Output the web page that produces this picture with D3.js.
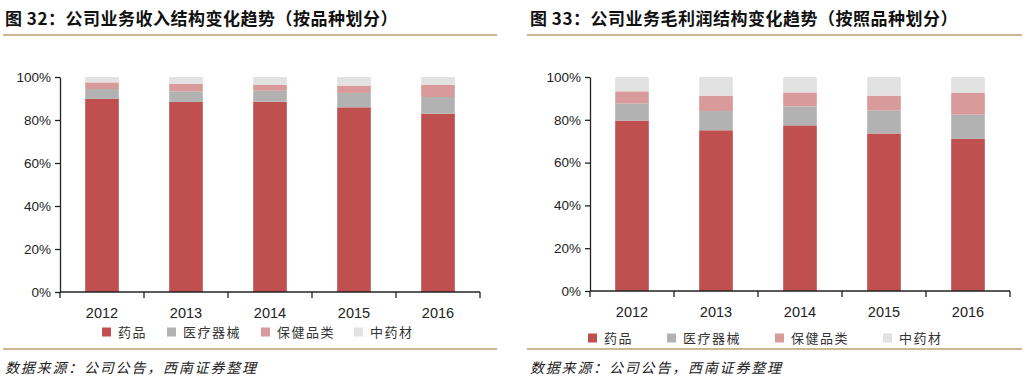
<!DOCTYPE html>
<html>
<head>
<meta charset="utf-8">
<script src="https://cdn.jsdelivr.net/npm/d3@7"></script>
<style>
  body { margin: 0; background: #fff; }
  svg { display: block; }
  .title { font-family: "Noto Sans CJK SC", sans-serif; font-weight: 700; font-size: 17px; letter-spacing: 0.5px; fill: #111; }
  .tick text { font-family: "Liberation Sans", Arial, sans-serif; fill: #222; }
  .legend text { font-family: "Noto Sans CJK SC", sans-serif; font-size: 13px; letter-spacing: 1.5px; fill: #333; }
  .source { font-family: "Noto Sans CJK SC", sans-serif; font-size: 14px; letter-spacing: 1.8px; font-style: italic; fill: #222; }
</style>
</head>
<body>
<svg id="chart" width="1026" height="388"></svg>
<script>
// Data (shares in %)
const years = ['2012', '2013', '2014', '2015', '2016'];
const seriesNames = ['药品', '医疗器械', '保健品类', '中药材'];
const colors = ['#c0504f', '#b2b2b2', '#d99a9b', '#e2e2e2'];
const yTicks = [0, 20, 40, 60, 80, 100];

// 图32 收入结构
const revMedicine = [89.8, 88.4, 88.5, 85.9, 82.9];
const revDevices = [4.6, 4.9, 5.1, 6.7, 7.8];
const revHealth = [3.1, 3.6, 2.8, 3.4, 5.7];
const revHerbs = [2.5, 3.1, 3.6, 4.0, 3.6];

// 图33 毛利润结构
const gpMedicine = [79.6, 75.1, 77.4, 73.6, 71.1];
const gpDevices = [8.0, 9.0, 8.9, 10.8, 11.3];
const gpHealth = [5.7, 7.2, 6.5, 6.9, 10.3];
const gpHerbs = [6.7, 8.7, 7.2, 8.7, 7.3];

const svg = d3.select('#chart');

function drawPanel(opts) {
  const g = svg.append('g');

  // title + rules
  g.append('text').attr('class', 'title').attr('x', opts.titleX).attr('y', 25).text(opts.title);
  g.append('line').attr('x1', opts.ruleX0).attr('x2', opts.ruleX1).attr('y1', 35).attr('y2', 35)
    .attr('stroke', '#cbb88f').attr('stroke-width', 2);
  g.append('line').attr('x1', opts.ruleX0).attr('x2', opts.ruleX1).attr('y1', 349).attr('y2', 349)
    .attr('stroke', '#cbb88f').attr('stroke-width', 2);
  g.append('text').attr('class', 'source').attr('x', opts.titleX).attr('y', 373).text('数据来源：公司公告，西南证券整理');

  const rows = years.map((y, i) => {
    const r = { year: y };
    opts.series.forEach((s, k) => { r[seriesNames[k]] = s[i]; });
    return r;
  });

  const x = d3.scaleBand().domain(years).range([opts.x0, opts.x1]).paddingInner(0.6).paddingOuter(0.3);
  const y = d3.scaleLinear().domain([0, 100]).range([opts.y0, opts.y1]);

  const stack = d3.stack().keys(seriesNames)(rows);

  g.append('g').selectAll('g').data(stack).join('g')
    .attr('fill', (d, i) => colors[i])
    .selectAll('rect').data(d => d).join('rect')
    .attr('x', d => x(d.data.year))
    .attr('width', x.bandwidth())
    .attr('y', d => y(Math.min(100, d[1])))
    .attr('height', d => y(d[0]) - y(Math.min(100, d[1])));

  // y axis
  const ya = g.append('g').attr('transform', `translate(${opts.x0},0)`)
    .call(d3.axisLeft(y).tickValues(yTicks).tickFormat(d => d + '%').tickSize(5).tickSizeOuter(0));
  ya.selectAll('text').attr('font-size', 13.5).attr('dx', '-1');
  ya.selectAll('line, path').attr('stroke', '#222').attr('stroke-width', 1.3);

  // x axis: ticks at band edges
  const edge = d3.scaleLinear().domain([0, years.length]).range([opts.x0, opts.x1]);
  const xa = g.append('g').attr('transform', `translate(0,${opts.y0})`);
  xa.append('line').attr('x1', opts.x0).attr('x2', opts.x1).attr('stroke', '#222').attr('stroke-width', 1.3);
  xa.selectAll('line.tk').data(d3.range(years.length + 1)).join('line').attr('class', 'tk')
    .attr('x1', d => edge(d)).attr('x2', d => edge(d)).attr('y1', 0).attr('y2', 6)
    .attr('stroke', '#222').attr('stroke-width', 1.3);
  xa.selectAll('text').data(years).join('text')
    .attr('x', d => x(d) + x.bandwidth() / 2).attr('y', 26)
    .attr('text-anchor', 'middle').attr('font-size', 14.5)
    .attr('font-family', '"Liberation Sans", Arial, sans-serif').attr('fill', '#222')
    .text(d => d);

  // legend
  const lg = g.append('g').attr('class', 'legend');
  seriesNames.forEach((name, i) => {
    const lx = opts.legendX[i];
    lg.append('rect').attr('x', lx).attr('y', opts.legendY - 4.5).attr('width', 9).attr('height', 9).attr('fill', colors[i]);
    lg.append('text').attr('x', lx + 16).attr('y', opts.legendY + 5).text(name);
  });
}

drawPanel({
  title: '图 32：公司业务收入结构变化趋势（按品种划分）',
  titleX: 5, ruleX0: 3, ruleX1: 497,
  x0: 60, x1: 480, y0: 292, y1: 77,
  series: [revMedicine, revDevices, revHealth, revHerbs],
  legendX: [102, 167, 261, 354], legendY: 332
});

drawPanel({
  title: '图 33：公司业务毛利润结构变化趋势（按照品种划分）',
  titleX: 530, ruleX0: 527, ruleX1: 1022,
  x0: 590, x1: 1010, y0: 291, y1: 77,
  series: [gpMedicine, gpDevices, gpHealth, gpHerbs],
  legendX: [588, 667, 775, 883], legendY: 338
});
</script>
</body>
</html>
